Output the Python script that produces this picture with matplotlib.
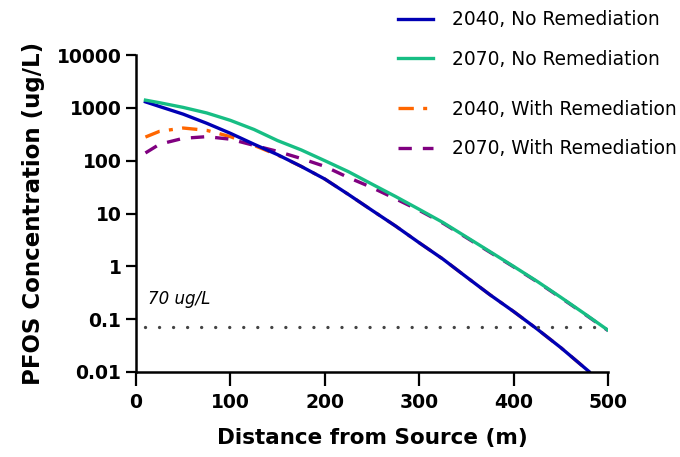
import matplotlib.pyplot as plt

# distance from source (m) and PFOS concentration (ug/L)
x_2040_no = [10, 25, 50, 75, 100, 125, 150, 175, 200, 225, 250, 275, 300, 325, 350, 375, 400, 425, 450, 480]
y_2040_no = [1300, 1060, 760, 510, 330, 205, 130, 78, 45, 23, 11.5, 5.8, 2.8, 1.38, 0.63, 0.29, 0.14, 0.065, 0.029, 0.0102]

x_2070_no = [10, 25, 50, 75, 100, 125, 150, 175, 200, 225, 250, 275, 300, 325, 350, 375, 400, 425, 450, 475, 500]
y_2070_no = [1400, 1250, 1020, 800, 580, 390, 240, 160, 100, 62, 36, 21, 12, 6.8, 3.6, 1.9, 1.0, 0.52, 0.26, 0.128, 0.062]

x_2040_rem = [10, 25, 50, 75, 100, 125, 150, 175, 200, 225, 250, 275, 300, 325, 350, 375, 400, 425, 450, 480]
y_2040_rem = [280, 360, 415, 375, 285, 195, 128, 78, 45, 23, 11.5, 5.8, 2.8, 1.38, 0.63, 0.29, 0.14, 0.065, 0.029, 0.0102]

x_2070_rem = [10, 25, 50, 75, 100, 125, 150, 175, 200, 225, 250, 275, 300, 325, 350, 375, 400, 425, 450, 475, 500]
y_2070_rem = [140, 205, 265, 285, 255, 195, 150, 110, 78, 48, 31, 19, 11.5, 6.6, 3.5, 1.85, 0.98, 0.51, 0.255, 0.126, 0.061]

limit_value = 0.07
limit_label = "70 ug/L"

plt.rcParams['font.family'] = 'DejaVu Sans'

fig = plt.figure(figsize=(6.8, 4.57), dpi=100)
ax = fig.add_axes([0.2, 0.186, 0.694, 0.6936])

lw = 2.4
l3, = ax.plot(x_2040_rem, y_2040_rem, color='#ff6600', lw=lw, dashes=(4.6, 2.8, 1.2, 2.8), label='2040, With Remediation')
l4, = ax.plot(x_2070_rem, y_2070_rem, color='#800080', lw=lw, dashes=(4.0, 3.3), label='2070, With Remediation')
l1, = ax.plot(x_2040_no, y_2040_no, color='#0000b4', lw=lw, label='2040, No Remediation')
l2, = ax.plot(x_2070_no, y_2070_no, color='#17be84', lw=lw, label='2070, No Remediation')

# 70 ug/L reference level
ax.plot([10, 492], [limit_value, limit_value], color='#444444', lw=2.4,
        dashes=(0.01, 4.2), dash_capstyle='round')
ax.text(13, 0.24, limit_label, fontsize=12, style='italic', va='center', ha='left')

ax.set_yscale('log')
ax.set_xlim(0, 500)
ax.set_ylim(0.01, 10000)
ax.set_xticks([0, 100, 200, 300, 400, 500])
ax.set_yticks([0.01, 0.1, 1, 10, 100, 1000, 10000])
ax.set_yticklabels(['0.01', '0.1', '1', '10', '100', '1000', '10000'])
ax.minorticks_off()
ax.tick_params(axis='x', width=1.6, length=10, labelsize=13.5, pad=5)
ax.tick_params(axis='y', width=1.6, length=7.5, labelsize=13.5, pad=3)
for lab in ax.get_xticklabels() + ax.get_yticklabels():
    lab.set_fontweight('bold')

for side in ['top', 'right']:
    ax.spines[side].set_visible(False)
for side in ['left', 'bottom']:
    ax.spines[side].set_linewidth(1.8)

ax.set_xlabel('Distance from Source (m)', fontsize=15.5, fontweight='bold', labelpad=12)
ax.set_ylabel('PFOS Concentration (ug/L)', fontsize=16.5, fontweight='bold', labelpad=8)

leg_kw = dict(loc='upper left', frameon=False, fontsize=13.4, handlelength=1.9,
              handletextpad=1.0, labelspacing=1.1, borderpad=0, borderaxespad=0)
fig.legend(handles=[l1, l2], bbox_to_anchor=(0.585, 0.978), **leg_kw)
fig.legend(handles=[l3, l4], bbox_to_anchor=(0.585, 0.782), **leg_kw)

fig.savefig('out.png', dpi=100)
